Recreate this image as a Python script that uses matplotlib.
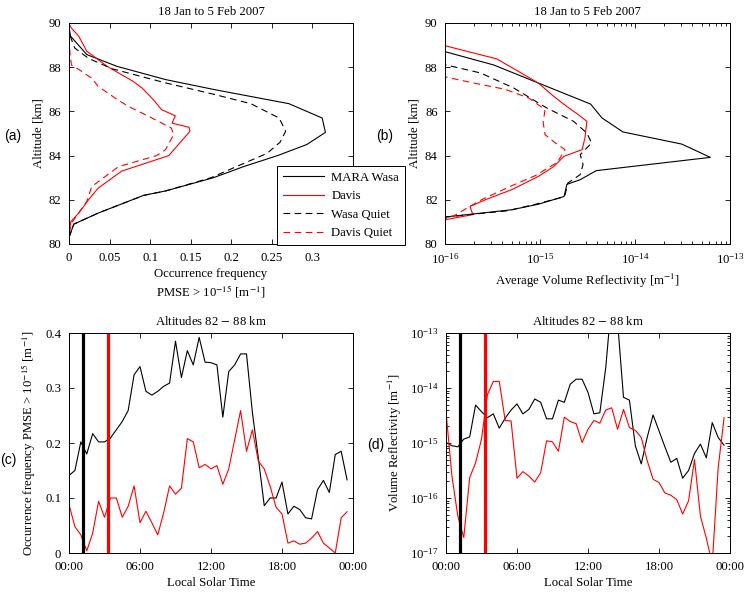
import numpy as np
import matplotlib
matplotlib.use("Agg")
import matplotlib.pyplot as plt
from matplotlib.ticker import LogLocator, NullFormatter

plt.rcParams['font.family'] = ['Liberation Serif', 'DejaVu Serif']
plt.rcParams['mathtext.fontset'] = 'stix'
plt.rcParams['font.size'] = 9.2
plt.rcParams['axes.titlesize'] = 9.2
plt.rcParams['axes.linewidth'] = 0.7

# ---- (a) occurrence frequency profiles ----
wasa_alt_a = [80.3, 80.9, 81.4, 82.2, 82.4, 83.0, 83.5, 84.0, 84.5, 85.05, 85.7, 86.35,
              86.98, 87.44, 88.04, 88.57, 89.4, 89.8]
wasa_occ_a = [0.0, 0.006, 0.036, 0.092, 0.119, 0.178, 0.215, 0.257, 0.293, 0.316, 0.312, 0.271,
              0.18, 0.119, 0.059, 0.022, 0.002, 0.0]
davis_alt_a = [80.35, 81.0, 81.4, 81.6, 82.0, 82.53, 83.3, 84.0, 85.1, 85.28, 85.47, 85.8,
               86.08, 86.53, 87.06, 87.36, 87.74, 88.04, 88.34, 88.72, 89.4, 89.77, 89.95]
davis_occ_a = [0.0, 0.002, 0.012, 0.016, 0.024, 0.036, 0.065, 0.123, 0.149, 0.148, 0.127, 0.131,
               0.114, 0.104, 0.09, 0.079, 0.061, 0.047, 0.036, 0.022, 0.012, 0.003, 0.0]
wasaq_alt_a = [80.3, 80.9, 81.4, 82.2, 82.4, 83.0, 83.45, 84.1, 84.6, 85.1, 85.7, 86.35,
               86.76, 87.29, 87.93, 88.4, 88.87, 89.55]
wasaq_occ_a = [0.0, 0.006, 0.036, 0.092, 0.119, 0.175, 0.203, 0.244, 0.26, 0.267, 0.259, 0.224,
               0.18, 0.119, 0.053, 0.024, 0.007, 0.0]
davisq_alt_a = [80.5, 81.0, 81.93, 82.6, 83.5, 84.0, 84.27, 84.95, 85.25, 85.4, 85.78, 86.23,
                86.6, 87.13, 87.5, 87.9, 88.1, 88.7, 89.3]
davisq_occ_a = [0.0, 0.004, 0.022, 0.028, 0.061, 0.108, 0.119, 0.129, 0.126, 0.118, 0.098, 0.073,
                0.057, 0.036, 0.028, 0.012, 0.003, 0.001, 0.0]
occ_ticks = [0, 0.05, 0.1, 0.15, 0.2, 0.25, 0.3]
occ_ticklabels = ['0', '0.05', '0.1', '0.15', '0.2', '0.25', '0.3']

# ---- (b) average volume reflectivity profiles (log10 m^-1) ----
wasa_alt_b = [81.22, 81.55, 81.8, 82.15, 82.7, 82.91, 83.32, 83.92, 84.52, 85.07, 85.7, 86.33,
              87.44, 88.1, 88.7]
wasa_lg_b = [-16.0, -15.3, -15.02, -14.75, -14.72, -14.58, -14.41, -13.21, -13.51, -14.13,
             -14.35, -14.47, -15.11, -15.49, -16.0]
davis_alt_b = [81.1, 81.33, 81.7, 82.0, 82.46, 83.06, 83.5, 83.97, 84.27, 84.8, 85.55, 85.85,
               86.38, 86.76, 87.28, 87.81, 88.38, 88.65, 88.97]
davis_lg_b = [-16.0, -15.71, -15.74, -15.58, -15.30, -15.02, -14.86, -14.75, -14.56, -14.53,
              -14.51, -14.6, -14.77, -14.88, -15.02, -15.23, -15.46, -15.71, -16.0]
wasaq_alt_b = [81.22, 81.5, 81.8, 82.1, 82.2, 82.76, 83.14, 83.6, 84.04, 84.57, 85.02, 85.55,
               86.15, 87.06, 87.74, 88.11]
wasaq_lg_b = [-16.0, -15.35, -15.05, -14.78, -14.74, -14.71, -14.58, -14.55, -14.58, -14.46,
              -14.51, -14.65, -14.93, -15.28, -15.63, -16.0]
davisq_alt_b = [81.05, 81.3, 81.68, 82.0, 82.6, 83.1, 83.7, 84.27, 84.6, 84.95, 85.5, 86.08,
                86.6, 87.0, 87.3, 87.56]
davisq_lg_b = [-16.05, -15.9, -15.75, -15.62, -15.32, -15.05, -14.82, -14.74, -14.85, -14.95,
               -14.97, -14.95, -15.12, -15.37, -15.72, -16.0]

# ---- (c)/(d) diurnal variation, half-hourly bins ----
hours = np.arange(0, 24, 0.5)
wasa_occ_c = [0.141, 0.150, 0.202, 0.180, 0.217, 0.202, 0.202, 0.209, 0.224, 0.239, 0.259, 0.324,
              0.339, 0.294, 0.287, 0.294, 0.303, 0.309, 0.385, 0.319, 0.368, 0.342, 0.392, 0.347,
              0.346, 0.342, 0.247, 0.330, 0.342, 0.362, 0.362, 0.255, 0.173, 0.086, 0.100, 0.100,
              0.129, 0.071, 0.085, 0.079, 0.064, 0.062, 0.115, 0.132, 0.110, 0.179, 0.185, 0.133]
davis_occ_c = [0.088, 0.048, 0.033, 0.004, 0.036, 0.094, 0.065, 0.100, 0.100, 0.065, 0.085, 0.122,
               0.055, 0.076, 0.055, 0.033, 0.073, 0.122, 0.107, 0.118, 0.208, 0.202, 0.155, 0.161,
               0.153, 0.159, 0.125, 0.153, 0.206, 0.259, 0.185, 0.224, 0.167, 0.153, 0.121, 0.083,
               0.071, 0.018, 0.022, 0.016, 0.018, 0.027, 0.039, 0.018, 0.009, 0.0, 0.064, 0.075]
wasa_lg_d = [-14.99, -15.05, -15.07, -14.93, -14.89, -14.31, -14.43, -14.54, -14.47, -14.73,
             -14.55, -14.40, -14.29, -14.47, -14.39, -14.20, -14.26, -14.56, -14.56, -14.22,
             -14.26, -13.93, -13.84, -13.84, -14.08, -14.47, -14.45, -13.63, -12.4, -12.8,
             -14.17, -14.22, -15.05, -15.38, -14.90, -14.49, -14.78, -15.07, -15.35, -15.28,
             -15.64, -15.50, -15.19, -15.02, -15.27, -14.63, -14.90, -15.04]
davis_lg_d = [-14.43, -15.60, -16.33, -16.72, -15.63, -15.36, -14.93, -14.12, -13.88, -13.88,
              -14.59, -14.60, -15.64, -15.52, -15.60, -15.71, -15.54, -14.96, -14.98, -15.15,
              -14.53, -14.61, -14.65, -14.99, -14.75, -14.59, -14.64, -14.40, -14.36, -14.75,
              -14.39, -14.72, -14.77, -14.90, -15.32, -15.66, -15.72, -15.91, -15.95, -16.03,
              -16.29, -16.05, -15.30, -16.33, -16.73, -17.2, -15.45, -14.54]
wasa_marker_hour = 1.22
davis_marker_hour = 3.3
time_ticks = [0, 6, 12, 18, 24]
time_ticklabels = ['00:00', '06:00', '12:00', '18:00', '00:00']

W, H = 744, 593
fig = plt.figure(figsize=(W / 100, H / 100), dpi=100)


def rect(x0, y0, x1, y1):
    return [x0 / W, 1 - y1 / H, (x1 - x0) / W, (y1 - y0) / H]


ax_a = fig.add_axes(rect(69, 23, 353, 244))
ax_b = fig.add_axes(rect(445.3, 23, 730.3, 244))
ax_c = fig.add_axes(rect(69, 333, 353, 553))
ax_d = fig.add_axes(rect(446, 333, 730, 553))

for ax in (ax_a, ax_b, ax_c, ax_d):
    ax.tick_params(which='both', direction='in', top=True, right=True, width=0.6)
    ax.tick_params(which='major', length=3.5, pad=5.5)
    ax.tick_params(which='minor', length=2)

lw = 0.8
dash = (0, (6, 4))

# (a)
ax_a.plot(wasa_occ_a, wasa_alt_a, color='k', lw=lw, label='MARA Wasa')
ax_a.plot(davis_occ_a, davis_alt_a, color='r', lw=lw, label='Davis')
ax_a.plot(wasaq_occ_a, wasaq_alt_a, color='k', lw=lw, ls=dash, label='Wasa Quiet')
ax_a.plot(davisq_occ_a, davisq_alt_a, color='r', lw=lw, ls=dash, label='Davis Quiet')
ax_a.set_xlim(0, 0.35)
ax_a.set_ylim(80, 90)
ax_a.set_xticks(occ_ticks)
ax_a.set_xticklabels(occ_ticklabels)
ax_a.set_yticks([80, 82, 84, 86, 88, 90])
ax_a.set_ylabel('Altitude [km]', labelpad=3)
ax_a.set_xlabel('Occurrence frequency\nPMSE > 10$^{-15}$ [m$^{-1}$]', linespacing=1.25,
                labelpad=3)
ax_a.set_title('18 Jan to 5 Feb 2007', pad=6)
leg = ax_a.legend(loc='lower left', bbox_to_anchor=(0.732, -0.004), borderaxespad=0,
                  fancybox=False, edgecolor='k', framealpha=1, handlelength=3.2,
                  labelspacing=0.5, handletextpad=0.6, borderpad=0.45)
leg.get_frame().set_linewidth(0.7)

# (b)
ax_b.plot(10.0 ** np.array(wasa_lg_b), wasa_alt_b, color='k', lw=lw)
ax_b.plot(10.0 ** np.array(davis_lg_b), davis_alt_b, color='r', lw=lw)
ax_b.plot(10.0 ** np.array(wasaq_lg_b), wasaq_alt_b, color='k', lw=lw, ls=dash)
ax_b.plot(10.0 ** np.array(davisq_lg_b), davisq_alt_b, color='r', lw=lw, ls=dash)
ax_b.set_xscale('log')
ax_b.set_xlim(1e-16, 1e-13)
ax_b.set_ylim(80, 90)
ax_b.set_yticks([80, 82, 84, 86, 88, 90])
ax_b.xaxis.set_major_locator(LogLocator(base=10, numticks=10))
ax_b.xaxis.set_minor_locator(LogLocator(base=10, subs=np.arange(2, 10), numticks=20))
ax_b.xaxis.set_minor_formatter(NullFormatter())
ax_b.set_ylabel('Altitude [km]', labelpad=3)
ax_b.set_xlabel('Average Volume Reflectivity [m$^{-1}$]', labelpad=4)
ax_b.set_title('18 Jan to 5 Feb 2007', pad=6)

# (c)
ax_c.plot(hours, wasa_occ_c, color='k', lw=lw)
ax_c.plot(hours, davis_occ_c, color='r', lw=lw)
ax_c.axvline(wasa_marker_hour, color='k', lw=2.3)
ax_c.axvline(davis_marker_hour, color='r', lw=2.3)
ax_c.set_xlim(0, 24)
ax_c.set_ylim(0, 0.4)
ax_c.set_xticks(time_ticks)
ax_c.set_xticklabels(time_ticklabels)
ax_c.set_yticks([0, 0.1, 0.2, 0.3, 0.4])
ax_c.set_yticklabels(['0', '0.1', '0.2', '0.3', '0.4'])
ax_c.set_xlabel('Local Solar Time', labelpad=3)
ax_c.set_ylabel('Occurrence frequency PMSE > 10$^{-15}$ [m$^{-1}$]', labelpad=5)
ax_c.set_title('Altitudes 82 $-$ 88 km', pad=6)

# (d)
ax_d.plot(hours, 10.0 ** np.array(wasa_lg_d), color='k', lw=lw)
ax_d.plot(hours, 10.0 ** np.array(davis_lg_d), color='r', lw=lw)
ax_d.axvline(wasa_marker_hour, color='k', lw=2.3)
ax_d.axvline(davis_marker_hour, color='r', lw=2.3)
ax_d.set_yscale('log')
ax_d.set_xlim(0, 24)
ax_d.set_ylim(1e-17, 1e-13)
ax_d.yaxis.set_major_locator(LogLocator(base=10, numticks=10))
ax_d.yaxis.set_minor_locator(LogLocator(base=10, subs=np.arange(2, 10), numticks=20))
ax_d.yaxis.set_minor_formatter(NullFormatter())
ax_d.set_xticks(time_ticks)
ax_d.set_xticklabels(time_ticklabels)
ax_d.set_xlabel('Local Solar Time', labelpad=3)
ax_d.set_ylabel('Volume Reflectivity [m$^{-1}$]', labelpad=4)
ax_d.set_title('Altitudes 82 $-$ 88 km', pad=6)

# panel letters
lab = dict(family=['Liberation Sans', 'DejaVu Sans'], fontsize=10, va='center')
fig.text(4 / W, 1 - 136 / H, '(a)', **lab)
fig.text(376 / W, 1 - 136 / H, '(b)', **lab)
fig.text(0 / W, 1 - 460 / H, '(c)', **lab)
fig.text(367 / W, 1 - 445 / H, '(d)', **lab)

fig.savefig('out.png', dpi=100)
